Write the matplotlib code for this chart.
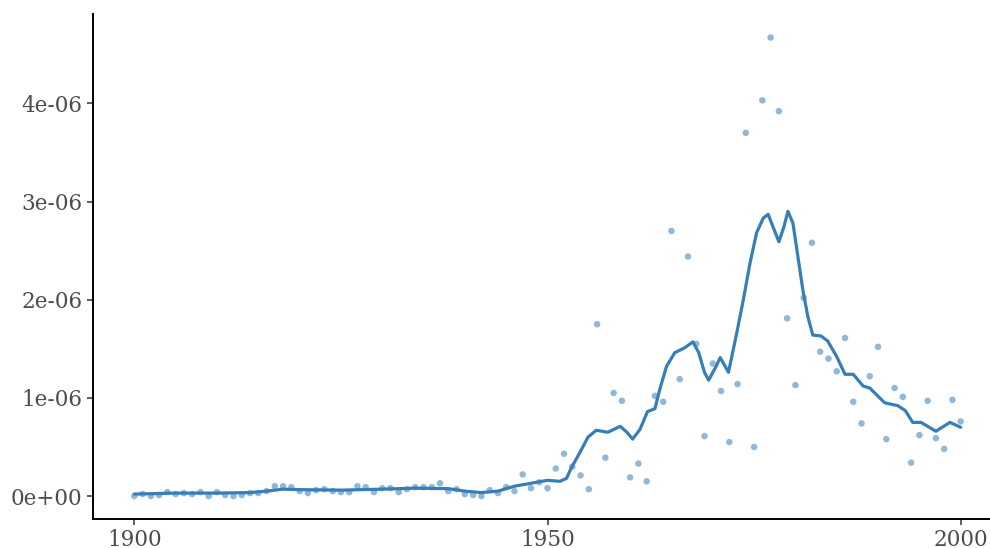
import numpy as np
import matplotlib
matplotlib.use("Agg")
import matplotlib.pyplot as plt

# yearly values (units of 1e-06)
years = list(range(1900, 2001))
values = [
    0.00, 0.02, 0.00, 0.01, 0.04, 0.02, 0.03, 0.02, 0.04, 0.00,  # 1900-1909
    0.04, 0.01, 0.00, 0.01, 0.03, 0.03, 0.05, 0.10, 0.10, 0.09,  # 1910-1919
    0.05, 0.03, 0.06, 0.07, 0.05, 0.04, 0.04, 0.10, 0.09, 0.04,  # 1920-1929
    0.08, 0.08, 0.04, 0.07, 0.09, 0.09, 0.09, 0.13, 0.05, 0.07,  # 1930-1939
    0.02, 0.01, 0.00, 0.06, 0.03, 0.09, 0.05, 0.22, 0.08, 0.14,  # 1940-1949
    0.08, 0.28, 0.43, 0.30, 0.21, 0.07, 1.75, 0.39, 1.05, 0.97,  # 1950-1959
    0.19, 0.33, 0.15, 1.02, 0.96, 2.70, 1.19, 2.44, 1.55, 0.61,  # 1960-1969
    1.35, 1.07, 0.55, 1.14, 3.70, 0.50, 4.03, 4.67, 3.92, 1.81,  # 1970-1979
    1.13, 2.02, 2.58, 1.47, 1.40, 1.27, 1.61, 0.96, 0.74, 1.22,  # 1980-1989
    1.52, 0.58, 1.10, 1.01, 0.34, 0.62, 0.97, 0.59, 0.48, 0.98,  # 1990-1999
    0.76,                                                        # 2000
]

# smoothed trend line
trend_years = [1900, 1905, 1910, 1914, 1916, 1918, 1920, 1925, 1930, 1934, 1938,
               1940, 1942, 1944, 1946, 1948, 1950, 1951.5, 1952.3, 1952.9, 1953.9,
               1954.9, 1955.9, 1957.3, 1958.8, 1959.6, 1960.3, 1961.2, 1962.1,
               1963.0, 1963.6, 1964.4, 1965.4, 1966.6, 1967.6, 1968.3, 1969.0,
               1969.5, 1970.4, 1970.9, 1971.9, 1972.9, 1973.7, 1974.5,
               1975.3, 1976.1, 1976.7, 1977.3, 1978.0, 1978.6, 1979.1, 1979.7,
               1980.3, 1980.9, 1981.5, 1982.1, 1983.1, 1983.9, 1985.0, 1986, 1987,
               1988.2, 1989, 1990.8, 1992.4, 1993.3, 1994.2, 1995.2, 1997, 1998.7, 2000]
trend_values = [0.02, 0.03, 0.03, 0.035, 0.05, 0.07, 0.065, 0.06, 0.07, 0.08, 0.075,
                0.05, 0.035, 0.05, 0.10, 0.13, 0.16, 0.15, 0.18, 0.29, 0.44,
                0.60, 0.67, 0.65, 0.71, 0.65, 0.58, 0.68, 0.86,
                0.89, 1.09, 1.32, 1.46, 1.51, 1.57, 1.46, 1.26,
                1.18, 1.32, 1.41, 1.26, 1.66, 2.00, 2.37,
                2.68, 2.83, 2.87, 2.74, 2.59, 2.74, 2.90, 2.78,
                2.44, 2.10, 1.83, 1.64, 1.63, 1.58, 1.42, 1.24, 1.24,
                1.12, 1.10, 0.95, 0.92, 0.87, 0.75, 0.75, 0.66, 0.75, 0.70]

y_ticks = [0, 1, 2, 3, 4]
y_tick_labels = ["0e+00", "1e-06", "2e-06", "3e-06", "4e-06"]
x_ticks = [1900, 1950, 2000]

blue = "#377EB8"
grey_text = "#4D4D4D"

fig = plt.figure(figsize=(9.9, 5.48), dpi=100)
# axes run past the right edge, as in the reference crop
ax = fig.add_axes([93 / 990, 29 / 548, 909 / 990, 505 / 548])

ax.scatter(years, values, s=22, color=blue, alpha=0.55, edgecolors="none", zorder=2)
ax.plot(trend_years, trend_values, color=blue, lw=2.3, solid_capstyle="round",
        solid_joinstyle="round", zorder=3)

ax.set_xlim(1895, 2005)
ax.set_ylim(-0.234, 4.91)
ax.set_xticks(x_ticks)
ax.set_yticks(y_ticks)
ax.set_yticklabels(y_tick_labels)

for side in ["top", "right"]:
    ax.spines[side].set_visible(False)
for side in ["left", "bottom"]:
    ax.spines[side].set_linewidth(1.4)
    ax.spines[side].set_color("black")

ax.tick_params(axis="both", length=4.5, width=1.1, color="#333333",
               labelcolor=grey_text, labelsize=15.5, pad=3)
for lab in ax.get_xticklabels() + ax.get_yticklabels():
    lab.set_family("DejaVu Serif")

fig.savefig("out.png", dpi=100)
